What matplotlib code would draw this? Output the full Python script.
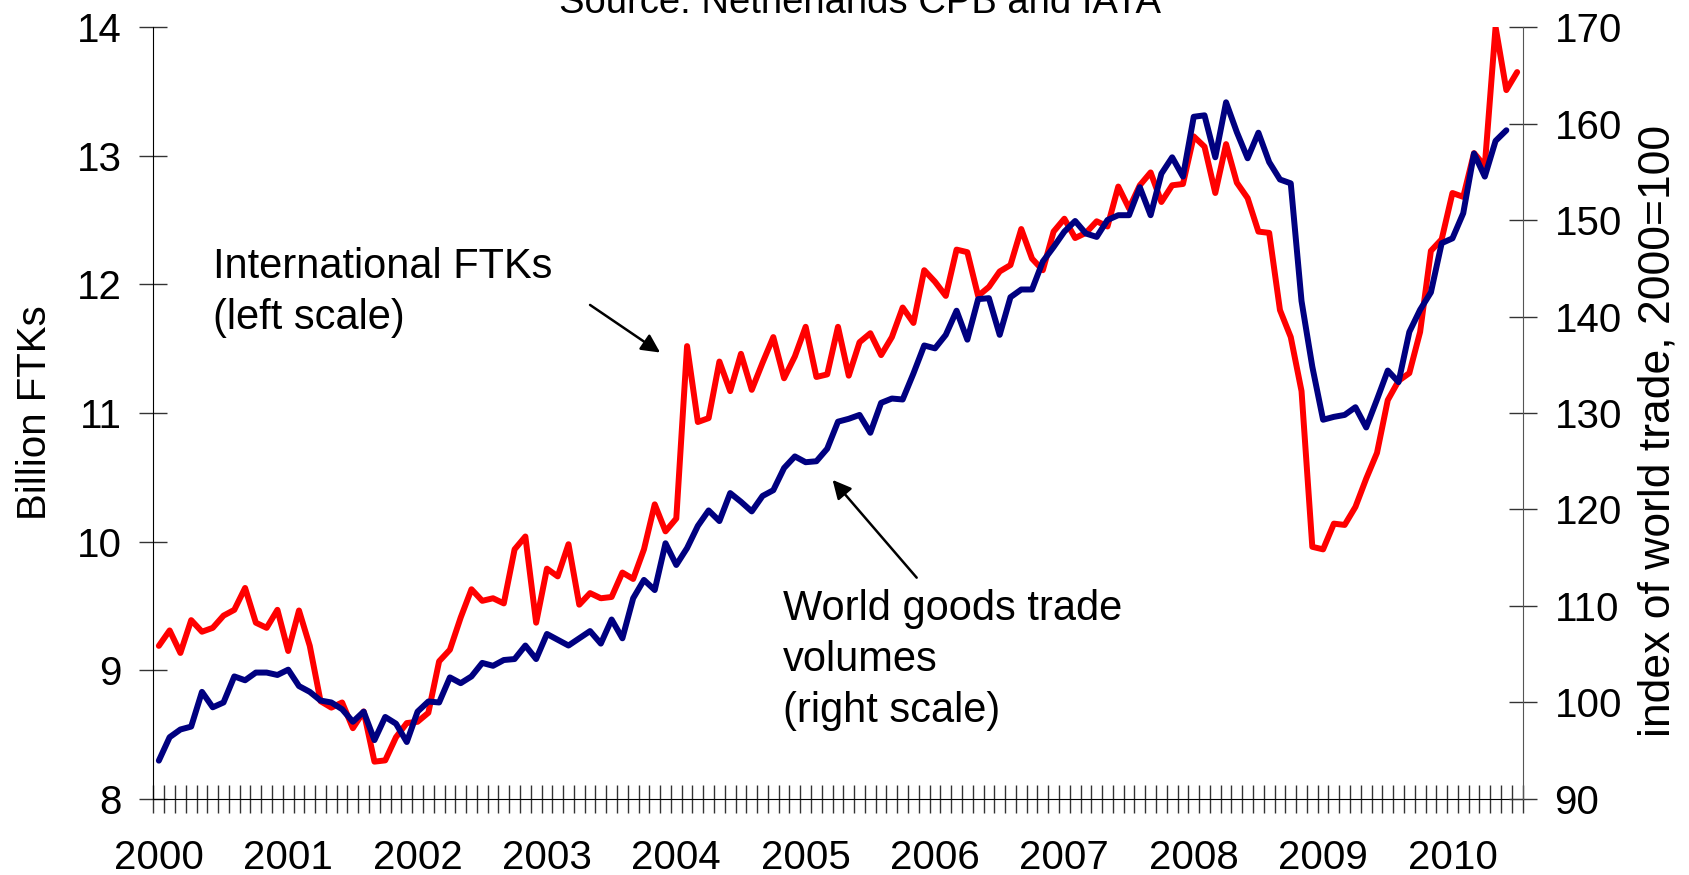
import matplotlib
matplotlib.use("Agg")
import matplotlib.pyplot as plt
import numpy as np

plt.rcParams['font.family'] = ['Liberation Sans', 'DejaVu Sans']

# Monthly series, Jan 2000 .. Jul 2010
ftk_billion = [
    9.19, 9.31, 9.135, 9.39, 9.30, 9.33, 9.425, 9.47, 9.64, 9.37, 9.33, 9.47,
    9.15, 9.465, 9.19, 8.76, 8.71, 8.75, 8.55, 8.68, 8.29, 8.30, 8.48, 8.59,
    8.60, 8.67, 9.07, 9.16, 9.41, 9.63, 9.54, 9.56, 9.52, 9.94, 10.04, 9.37,
    9.79, 9.73, 9.98, 9.51, 9.60, 9.56, 9.57, 9.76, 9.71, 9.94, 10.29, 10.08,
    10.18, 11.52, 10.93, 10.96, 11.40, 11.17, 11.46, 11.18, 11.39, 11.59, 11.27, 11.44,
    11.67, 11.28, 11.30, 11.67, 11.29, 11.55, 11.62, 11.45, 11.59, 11.82, 11.70, 12.11,
    12.02, 11.91, 12.27, 12.25, 11.91, 11.98, 12.10, 12.15, 12.43, 12.20, 12.11, 12.41,
    12.51, 12.36, 12.40, 12.49, 12.45, 12.76, 12.59, 12.77, 12.87, 12.64, 12.77, 12.78,
    13.15, 13.07, 12.71, 13.09, 12.79, 12.67, 12.41, 12.40, 11.80, 11.59, 11.17, 9.96,
    9.94, 10.14, 10.13, 10.27, 10.49, 10.69, 11.10, 11.25, 11.31, 11.63, 12.26, 12.35,
    12.71, 12.68, 13.02, 12.92, 14.0, 13.51, 13.65,
]

trade_index = [
    93.97, 96.4, 97.2, 97.5, 101.1, 99.5, 100.0, 102.7, 102.3, 103.1, 103.1, 102.85,
    103.4, 101.7, 101.1, 100.2, 100.0, 99.3, 98.0, 99.05, 96.1, 98.5, 97.8, 95.9,
    99.05, 100.1, 100.0, 102.6, 102.0, 102.7, 104.1, 103.8, 104.4, 104.5, 105.9, 104.5,
    107.1, 106.5, 105.9, 106.65, 107.4, 106.1, 108.6, 106.65, 110.8, 112.7, 111.65, 116.5,
    114.25, 116.0, 118.3, 119.9, 118.8, 121.7, 120.8, 119.8, 121.4, 122.0, 124.3, 125.5,
    124.9, 125.0, 126.3, 129.1, 129.4, 129.8, 127.95, 131.05, 131.5, 131.4, 134.1, 137.0,
    136.7, 138.1, 140.6, 137.6, 141.8, 141.9, 138.1, 142.0, 142.8, 142.8, 145.7, 147.2,
    148.8, 149.9, 148.6, 148.25, 150.0, 150.5, 150.5, 153.4, 150.5, 154.8, 156.5, 154.5,
    160.7, 160.85, 156.5, 162.2, 159.1, 156.4, 159.05, 156.0, 154.2, 153.8, 141.6, 134.8,
    129.3, 129.6, 129.8, 130.6, 128.5, 131.4, 134.4, 133.2, 138.4, 140.7, 142.5, 147.6,
    148.1, 150.7, 156.9, 154.5, 158.2, 159.3,
]

year_labels = ['2000', '2001', '2002', '2003', '2004', '2005',
               '2006', '2007', '2008', '2009', '2010']

n_months = len(ftk_billion)
x_ftk = np.arange(len(ftk_billion)) + 0.5
x_trade = np.arange(len(trade_index)) + 0.5

fig = plt.figure(figsize=(16.9, 8.75), dpi=100)
ax = fig.add_axes([0.0908, 0.0869, 0.9009 - 0.0908, 0.9691 - 0.0869])
ax2 = ax.twinx()

ax.plot(x_ftk, ftk_billion, color='#FF0000', lw=4.3, solid_joinstyle='round',
        solid_capstyle='round')
ax2.plot(x_trade, trade_index, color='#000080', lw=4.3, solid_joinstyle='round',
         solid_capstyle='round')

ax.set_xlim(0, n_months)
ax.set_ylim(8, 14)
ax2.set_ylim(90, 170)
ax.set_yticks(np.arange(8, 15, 1))
ax2.set_yticks(np.arange(90, 171, 10))

# monthly tick marks, year labels on January
ax.set_xticks(np.arange(0, n_months + 1))
ax.set_xticklabels([])
ax.set_xticks(np.arange(len(year_labels)) * 12 + 0.5, minor=True)
ax.set_xticklabels(year_labels, minor=True)

ax.tick_params(axis='x', which='major', direction='inout', length=20, width=1,
               color='#333333')
ax.tick_params(axis='x', which='minor', length=0, pad=29, labelsize=29)
ax.tick_params(axis='y', direction='inout', length=20, width=1, pad=13,
               labelsize=29, color='#333333')
ax2.tick_params(axis='y', direction='inout', length=20, width=1, pad=13,
                labelsize=29, color='#333333')

for a in (ax, ax2):
    a.spines['top'].set_visible(False)
ax.spines['right'].set_visible(False)
ax2.spines['left'].set_visible(False)
ax2.spines['bottom'].set_visible(False)
ax2.spines['right'].set_color('#555555')
ax.set_zorder(1)
ax.patch.set_visible(False)
ax2.set_zorder(2)

ax.set_ylabel('Billion FTKs', fontsize=29)
ax.yaxis.set_label_coords(-0.073, 0.5)
ax2.set_ylabel('index of world trade, 2000=100', fontsize=32)
ax2.yaxis.set_label_coords(1.084, 0.477)

fig.text(0.509, 0.985, 'Source: Netherlands CPB and IATA', fontsize=27.5,
         ha='center', va='baseline')

# va='baseline' aligns the last line's baseline
ax.text(5.5, 11.653, 'International FTKs\n(left scale)', fontsize=30,
        ha='left', va='baseline', linespacing=1.34)
ax.text(58.4, 8.602, 'World goods trade\nvolumes\n(right scale)', fontsize=30,
        ha='left', va='baseline', linespacing=1.34)

arrow = dict(arrowstyle='-|>', color='black', lw=1.8, mutation_scale=28,
             shrinkA=0, shrinkB=0)
ax.annotate('', xy=(47.0, 11.47), xytext=(40.5, 11.84), arrowprops=arrow)
ax.annotate('', xy=(63.0, 10.48), xytext=(70.8, 9.72), arrowprops=arrow)

fig.savefig('out.png', dpi=100)
